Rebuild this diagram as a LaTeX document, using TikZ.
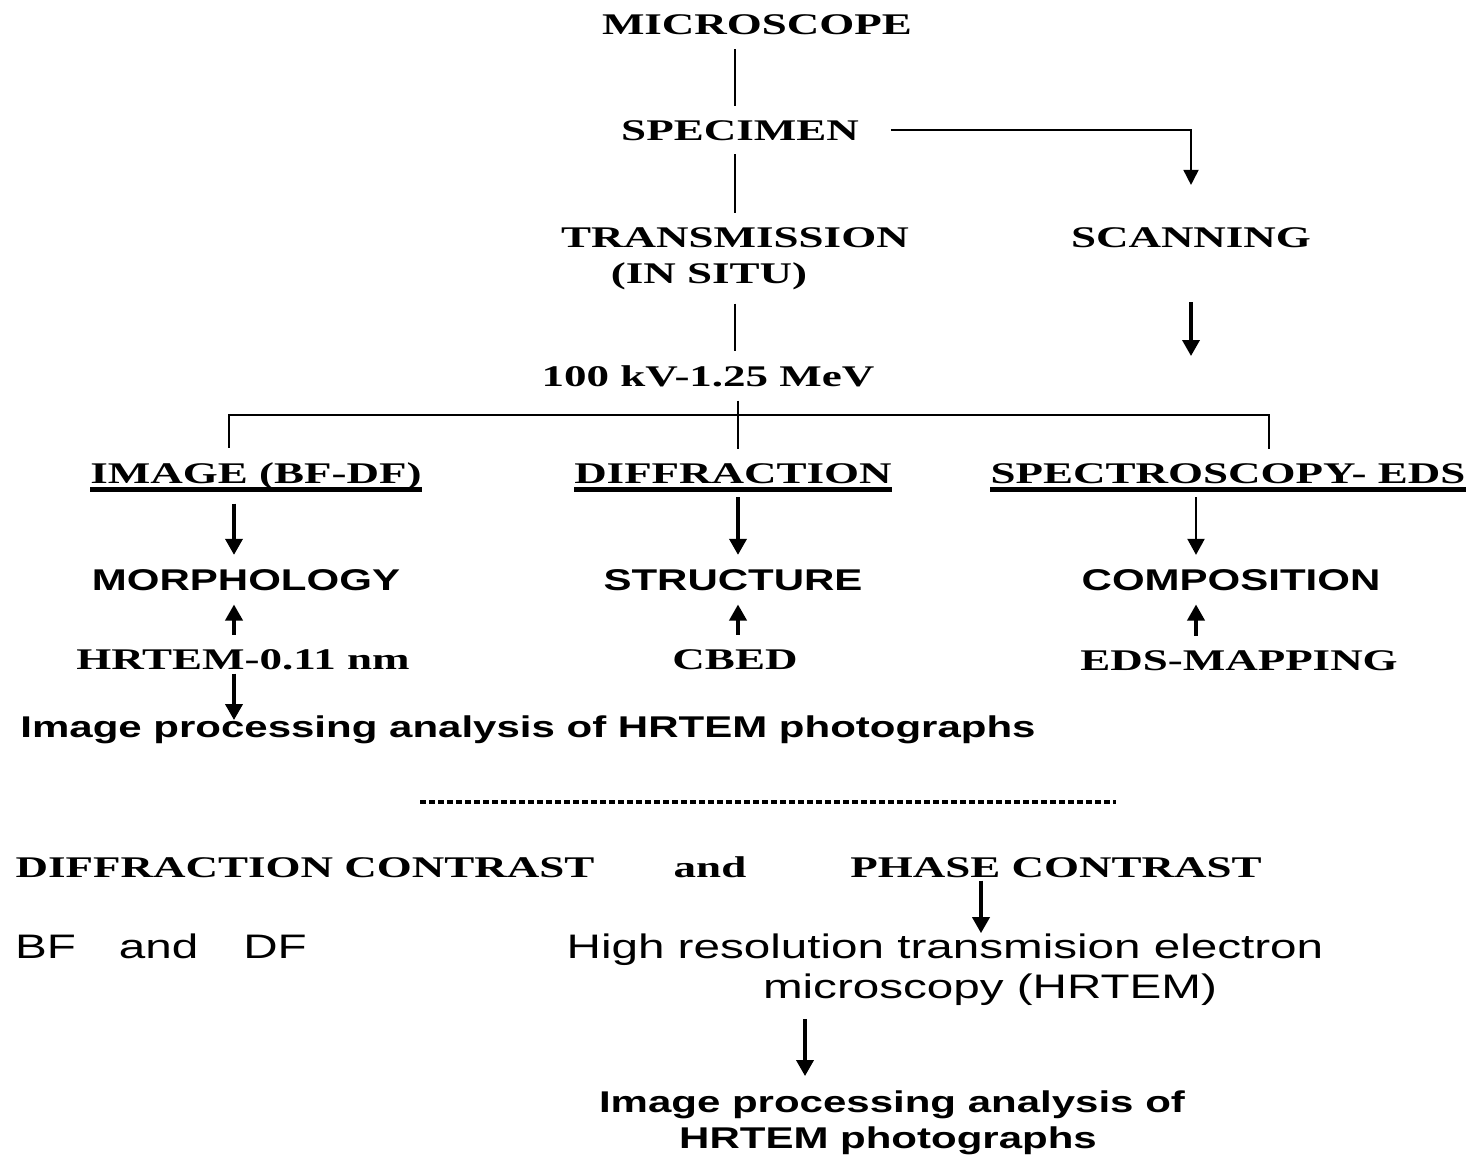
\documentclass[tikz,border=0pt]{standalone}
\usepackage{fontspec}
\usepackage{tikz}
\usetikzlibrary{arrows.meta,calc}
\newfontfamily\hdfont[FakeStretch=1.5]{Liberation Serif}
\newfontfamily\sffont[FakeStretch=1.4]{Liberation Sans}

\begin{document}
\begin{tikzpicture}[x=1pt,y=-1pt,
    hd/.style={font=\hdfont\bfseries\fontsize{30pt}{36pt}\selectfont,inner sep=14pt,anchor=base},
    bx/.style={font=\sffont\bfseries\fontsize{30pt}{36pt}\selectfont,inner sep=14pt,anchor=base},
    tx/.style={font=\sffont\fontsize{34pt}{40pt}\selectfont,inner sep=14pt,anchor=base},
    link/.style={line width=1.8pt},
    arrow/.style={-{Triangle[length=16pt,width=17pt]},line width=3.6pt},
    uline/.style={line width=4.5pt},
    dashline/.style={line width=4pt,dash pattern=on 6pt off 3pt}
]
\useasboundingbox (0,0) rectangle (1474,1156);
\node[hd] (mic) at (757,35) {MICROSCOPE};
\node[hd] (specimen) at (740,140) {SPECIMEN};
\node[hd] (trans) at (735,247) {TRANSMISSION};
\node[hd] (insitu) at (709,283) {(IN SITU)};
\node[hd] (scan) at (1191,247) {SCANNING};
\node[hd] (kv) at (708,386) {100 kV-1.25 MeV};
\node[hd] (img) at (256,483) {IMAGE (BF-DF)};
\node[hd] (diffr) at (733,483) {DIFFRACTION};
\node[hd] (spectro) at (1228,483) {SPECTROSCOPY- EDS};
\node[bx] (morph) at (246,590) {MORPHOLOGY};
\node[bx] (struct) at (733,590) {STRUCTURE};
\node[bx] (compo) at (1231,590) {COMPOSITION};
\node[hd] (hrtem) at (243,669) {HRTEM-0.11 nm};
\node[hd] (cbed) at (735,669) {CBED};
\node[hd] (edsmap) at (1239,670) {EDS-MAPPING};
\node[bx] (improc) at (528,737) {Image processing analysis of HRTEM photographs};
\node[hd] (dc) at (305,877) {DIFFRACTION CONTRAST};
\node[hd] (andw) at (710,877) {and};
\node[hd] (pc) at (1056,877) {PHASE CONTRAST};
\node[tx] (bfdf) at (161,958) {BF\hspace{43pt}and\hspace{45pt}DF};
\node[tx] (hres) at (945,958) {High resolution transmision electron};
\node[tx] (hres2) at (990,998) {microscopy (HRTEM)};
\node[bx] (imgan) at (892,1112) {Image processing analysis of};
\node[bx] (imgan2) at (888,1148) {HRTEM photographs};

\coordinate (colA) at (234,0);
\coordinate (colB) at (738,0);
\coordinate (colC) at (1196,0);
\coordinate (colD) at (981,0);
\coordinate (colE) at (805,0);
\coordinate (barL) at (229,415);
\coordinate (barR) at (1269,415);
\coordinate (scanend) at (1191,356);

\draw[link] (mic.south -| trans) -- (specimen.north -| trans);
\draw[link] (specimen.south -| trans) -- (trans.north);
\draw[link] (insitu.south -| trans) -- (kv.north -| trans);
\draw[link] (kv.south -| colB) -- (diffr.north -| colB);
\draw[link] (img.north -| barL) -- (barL) -- (barR) -- (spectro.north -| barR);
\draw[link,-{Triangle[length=15pt,width=15pt]},shorten >=28pt] ([xshift=18pt]specimen.east) -| (scan.north);
\draw[arrow,shorten <=41pt] (scan.south) -- (scanend);

\draw[arrow] (img.south -| colA) -- (morph.north -| colA);
\draw[arrow] (diffr.south -| colB) -- (struct.north -| colB);
\draw[arrow,line width=2.2pt] (spectro.south -| colC) -- (compo.north -| colC);
\draw[arrow] (hrtem.north -| colA) -- (morph.south -| colA);
\draw[arrow] (cbed.north -| colB) -- (struct.south -| colB);
\draw[arrow] (edsmap.north -| colC) -- (compo.south -| colC);
\draw[arrow,shorten <=-10pt,shorten >=-19pt] (hrtem.south -| colA) -- (improc.north -| colA);
\draw[arrow,shorten <=-11pt,shorten >=-14pt] (pc.south -| colD) -- (hres.north -| colD);
\draw[arrow] (hres2.south -| colE) -- (imgan.north -| colE);

\foreach \n in {img,diffr,spectro}
  \draw[uline] ($(\n.base west)+(14,6.5)$) -- ($(\n.base east)+(-14,6.5)$);
\draw[dashline] (420,802) -- (1116,802);
\end{tikzpicture}
\end{document}
